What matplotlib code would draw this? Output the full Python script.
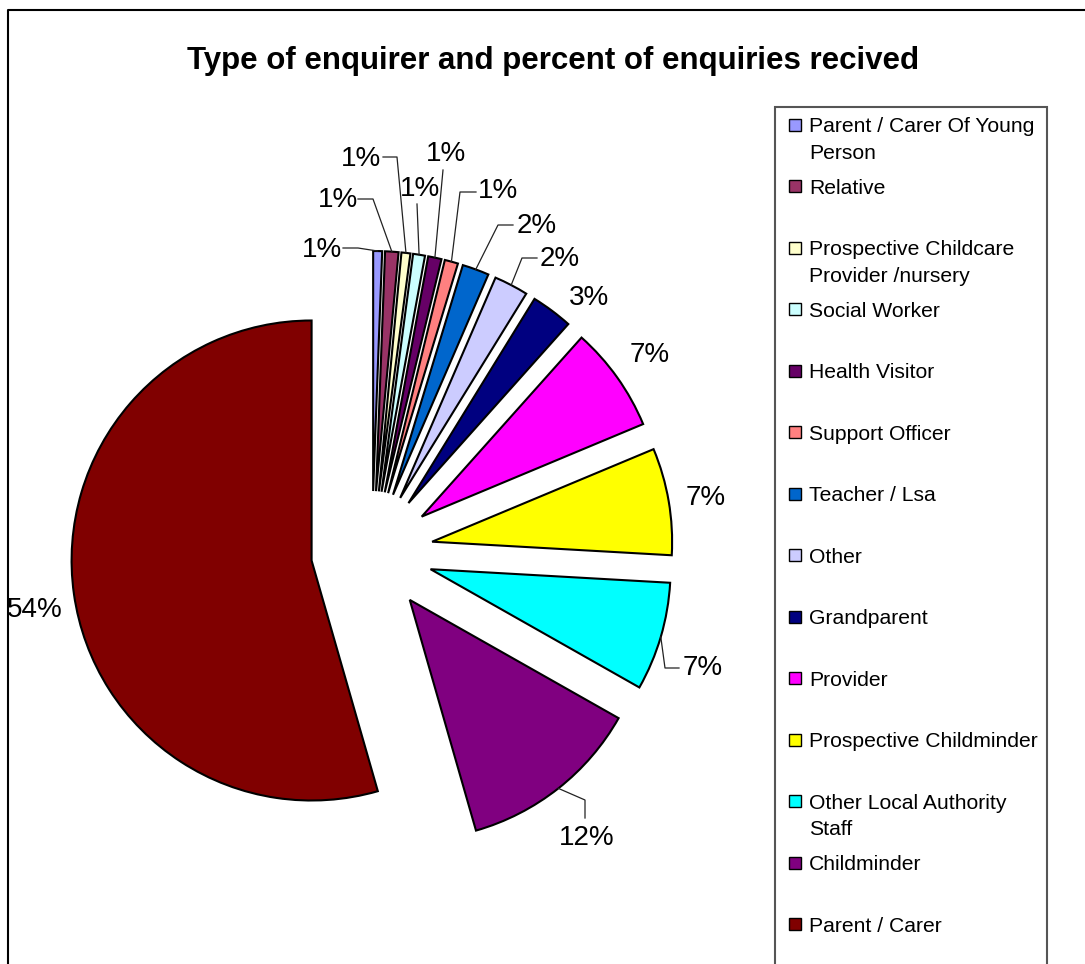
import matplotlib
matplotlib.use("Agg")
import numpy as np
import matplotlib.pyplot as plt
from matplotlib.patches import Rectangle

W, H = 1085, 964

categories = [
    "Parent / Carer Of Young\nPerson",
    "Relative",
    "Prospective Childcare\nProvider /nursery",
    "Social Worker",
    "Health Visitor",
    "Support Officer",
    "Teacher / Lsa",
    "Other",
    "Grandparent",
    "Provider",
    "Prospective Childminder",
    "Other Local Authority\nStaff",
    "Childminder",
    "Parent / Carer",
]
shares = [0.6, 0.9, 0.6, 0.8, 0.9, 0.9, 1.8, 2.3, 2.8, 7.1, 7.2, 7.3, 12.35, 54.45]
colors = [
    "#9999FF", "#993366", "#FFFFCC", "#CCFFFF", "#660066", "#FF8080", "#0066CC",
    "#CCCCFF", "#000080", "#FF00FF", "#FFFF00", "#00FFFF", "#800080", "#800000",
]

# percent label centres (pixels from top-left)
label_xy = [
    (322, 250), (338, 200), (361, 159), (420, 189), (446, 154), (498, 191),
    (537, 226), (560, 259), (589, 298), (650, 355), (706, 498), (703, 668),
    (587, 838), (35, 610),
]
# leader lines: (elbow, end) in pixels, None where the label sits free
leaders = [
    ((358, 248), (343, 248)),
    ((373, 199), (358, 199)),
    ((397, 157), (383, 157)),
    (None, (417, 204)),
    (None, (443, 170)),
    ((460, 192), (476, 192)),
    ((498, 225), (513, 225)),
    ((522, 258), (537, 258)),
    None, None, None,
    ((665, 668), (679, 668)),
    ((585, 800), (585, 818)),
    None,
]

plt.rcParams["font.family"] = ["Liberation Sans", "DejaVu Sans"]


def px(x, y):
    return x, H - y


fig = plt.figure(figsize=(W / 100, H / 100), dpi=100)
ax = fig.add_axes([0, 0, 1, 1])

cx, cy = px(372, 552)
radius = 240
wedges, _ = ax.pie(
    shares,
    colors=colors,
    startangle=90,
    counterclock=False,
    radius=radius,
    center=(cx, cy),
    explode=[61] * len(shares),
    wedgeprops=dict(edgecolor="black", linewidth=1.5),
)
ax.set_xlim(0, W)
ax.set_ylim(0, H)
ax.set_aspect("equal")
ax.axis("off")

total = sum(shares)
for w, val, (lx, ly), lead in zip(wedges, shares, label_xy, leaders):
    ax.text(*px(lx, ly), f"{val / total * 100:.0f}%", fontsize=20,
            ha="center", va="center")
    if lead is None:
        continue
    tm = np.deg2rad((w.theta1 + w.theta2) / 2)
    ax0 = w.center[0] + w.r * np.cos(tm)
    ay0 = w.center[1] + w.r * np.sin(tm)
    elbow, end = lead
    pts = [(ax0, ay0)]
    if elbow is not None:
        pts.append(px(*elbow))
    pts.append(px(*end))
    xs, ys = zip(*pts)
    ax.plot(xs, ys, color="#222222", linewidth=0.9)

ax.text(*px(553, 61), "Type of enquirer and percent of enquiries recived",
        fontsize=22.5, fontweight="bold", ha="center", va="center")

# legend panel, running off the bottom edge
ax.add_patch(Rectangle(px(775, H + 20), 1047 - 775, H + 20 - 107,
                       facecolor="white", edgecolor="#555555", linewidth=1.5))
for i, (name, col) in enumerate(zip(categories, colors)):
    my = 124.7 + 61.5 * i
    ax.add_patch(Rectangle(px(788.5, my + 6), 12, 12, facecolor=col,
                           edgecolor="black", linewidth=1.0))
    for k, line in enumerate(name.split("\n")):
        ax.text(*px(809, my + 7.4 + 26.5 * k), line, fontsize=15.2,
                ha="left", va="baseline")

# outer chart frame
ax.plot([8, 8, W + 10], [-10, H - 10, H - 10], color="black", linewidth=1.5,
        clip_on=False)

fig.savefig("out.png", dpi=100)
